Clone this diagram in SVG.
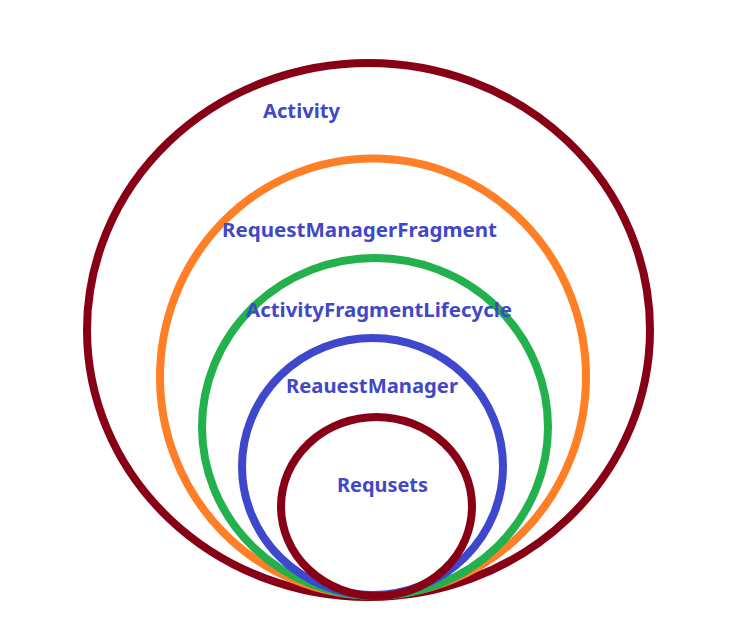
<svg xmlns="http://www.w3.org/2000/svg" width="739" height="617" viewBox="0 0 739 617">
<style>
.ring{fill:none;stroke-width:8}
.lbl{font-family:"Noto Sans","Open Sans","DejaVu Sans",sans-serif;font-weight:bold;font-size:19px;fill:#4048c8}
</style>
<rect width="739" height="617" fill="#ffffff"/>
<g id="activity">
<ellipse class="ring" cx="368.5" cy="330" rx="281.5" ry="267" stroke="#880015"/>
<text class="lbl" x="263" y="118" textLength="77" lengthAdjust="spacingAndGlyphs">Activity</text>
</g>
<g id="requestManagerFragment">
<ellipse class="ring" cx="373" cy="377" rx="213" ry="218.5" stroke="#ff7f27"/>
<text class="lbl" x="222" y="237" textLength="275" lengthAdjust="spacingAndGlyphs">RequestManagerFragment</text>
</g>
<g id="activityFragmentLifecycle">
<ellipse class="ring" cx="375" cy="427" rx="173" ry="169" stroke="#22b14c"/>
<text class="lbl" x="246" y="317" textLength="266" lengthAdjust="spacingAndGlyphs">ActivityFragmentLifecycle</text>
</g>
<g id="requestManager">
<ellipse class="ring" cx="372.5" cy="466.5" rx="130.5" ry="128.5" stroke="#3f48cc"/>
<text class="lbl" x="286" y="393" textLength="172" lengthAdjust="spacingAndGlyphs">ReauestManager</text>
</g>
<g id="requests">
<ellipse class="ring" cx="376.5" cy="506.5" rx="95.5" ry="89.5" stroke="#880015"/>
<text class="lbl" x="337" y="492" textLength="91" lengthAdjust="spacingAndGlyphs">Requsets</text>
</g>
<g id="connectors"/>
</svg>
